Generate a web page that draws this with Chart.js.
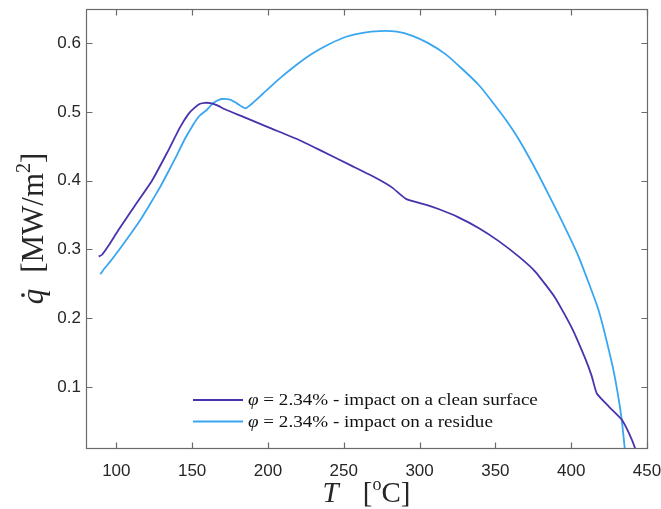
<!DOCTYPE html>
<html>
<head>
<meta charset="utf-8">
<script src="https://cdn.jsdelivr.net/npm/chart.js@4/dist/chart.umd.min.js"></script>
<style>
  html, body { margin: 0; padding: 0; background: #fff; }
  canvas { display: block; }
</style>
</head>
<body>
<canvas id="heatFluxChart" width="661" height="509"></canvas>
<script>
// tick labels
const xTicks = [100, 150, 200, 250, 300, 350, 400, 450];
const yTicks = [0.1, 0.2, 0.3, 0.4, 0.5, 0.6];

// series: impact on a clean surface
const cleanLabel = ' = 2.34% - impact on a clean surface';
const cleanT = [88.4, 90.6, 95, 101.5, 112, 123.5, 133.3, 142.1, 147.5, 151.5, 155.2, 158.5, 162, 166.2, 172.7, 185, 200, 220.9, 234, 255, 271.3, 282, 291, 305, 312.9, 325, 339.2, 352, 365.5, 376.4, 389.5, 400.5, 409.3, 413.5, 416.9, 425, 433.3, 438, 442.1, 443];
const cleanQ = [0.2898, 0.2923, 0.306, 0.3286, 0.363, 0.400, 0.440, 0.478, 0.497, 0.506, 0.512, 0.5135, 0.513, 0.510, 0.503, 0.492, 0.478, 0.459, 0.445, 0.422, 0.404, 0.390, 0.3737, 0.3645, 0.3585, 0.3475, 0.331, 0.3125, 0.2895, 0.2675, 0.2295, 0.1855, 0.141, 0.116, 0.0903, 0.071, 0.0525, 0.033, 0.011, 0.0];

// series: impact on a residue
const residueLabel = ' = 2.34% - impact on a residue';
const residueT = [89.5, 92, 96.1, 100, 105, 111.4, 117, 122, 128.9, 134, 139.9, 145, 150.8, 155, 159.6, 162.9, 166, 169.5, 175, 179.3, 185.4, 196.8, 207.8, 218.7, 229.6, 240.6, 251.6, 262.5, 273.5, 285, 295.3, 306, 317.3, 328, 339.2, 346.9, 357.8, 365.5, 378.6, 391.7, 404.8, 418, 426.8, 430.5, 433.3, 435.3, 435.8];
const residueQ = [0.264, 0.272, 0.2826, 0.294, 0.309, 0.3286, 0.347, 0.365, 0.391, 0.412, 0.437, 0.46, 0.482, 0.495, 0.503, 0.511, 0.516, 0.519, 0.518, 0.513, 0.5055, 0.527, 0.549, 0.5685, 0.5855, 0.599, 0.6096, 0.6154, 0.6179, 0.617, 0.611, 0.600, 0.584, 0.563, 0.539, 0.518, 0.486, 0.460, 0.408, 0.351, 0.290, 0.212, 0.135, 0.093, 0.0525, 0.011, 0.0];

const cleanColor = '#4A32AC';
const residueColor = '#38A6F0';
const axisColor = '#262626';
const serif = '"Liberation Serif", "DejaVu Serif", serif';

const toPoints = (xs, ys) => xs.map((x, i) => ({ x: x, y: ys[i] }));

// box, inward ticks, LaTeX-like titles and legend
const decorations = {
    id: 'decorations',
    afterDraw(chart) {
        const ctx = chart.ctx;
        const a = chart.chartArea;
        const xs = chart.scales.x, ys = chart.scales.y;
        const L = Math.round(a.left) + 0.5, R = Math.round(a.right) + 0.5;
        const T = Math.round(a.top) + 0.5, B = Math.round(a.bottom) + 0.5;
        ctx.save();
        ctx.strokeStyle = '#6a6a6a';
        ctx.lineWidth = 1.2;
        ctx.strokeRect(L, T, R - L, B - T);
        ctx.beginPath();
        xTicks.forEach(v => {
            const px = Math.round(xs.getPixelForValue(v)) + 0.5;
            ctx.moveTo(px, B); ctx.lineTo(px, B - 6);
            ctx.moveTo(px, T); ctx.lineTo(px, T + 6);
        });
        yTicks.forEach(v => {
            const py = Math.round(ys.getPixelForValue(v)) + 0.5;
            ctx.moveTo(L, py); ctx.lineTo(L + 6, py);
            ctx.moveTo(R, py); ctx.lineTo(R - 6, py);
        });
        ctx.stroke();

        ctx.fillStyle = axisColor;
        ctx.textBaseline = 'alphabetic';
        ctx.textAlign = 'left';

        // x title: T  [°C]
        const cx = (a.left + a.right) / 2;
        const xb = 502;
        ctx.font = 'italic 29px ' + serif;
        const wT = ctx.measureText('T').width;
        ctx.font = '29px ' + serif;
        const wB = ctx.measureText('[').width;
        const wC = ctx.measureText('C]').width;
        ctx.font = '18px ' + serif;
        const wO = ctx.measureText('o').width;
        const gapX = 24;
        let x0 = cx - (wT + gapX + wB + wO + wC) / 2;
        ctx.font = 'italic 29px ' + serif;
        ctx.fillText('T', x0, xb);
        x0 += wT + gapX;
        ctx.font = '29px ' + serif;
        ctx.fillText('[', x0, xb);
        x0 += wB;
        ctx.font = '18px ' + serif;
        ctx.fillText('o', x0, xb - 12);
        x0 += wO;
        ctx.font = '29px ' + serif;
        ctx.fillText('C]', x0, xb);

        // y title: q-dot  [MW/m^2]
        ctx.save();
        ctx.translate(43, (a.top + a.bottom) / 2);
        ctx.rotate(-Math.PI / 2);
        ctx.font = 'italic 31px ' + serif;
        const wq = ctx.measureText('q').width;
        ctx.font = '31px ' + serif;
        const wU = ctx.measureText('[MW/m').width;
        const wE = ctx.measureText(']').width;
        ctx.font = '20px ' + serif;
        const w2 = ctx.measureText('2').width;
        const gapY = 16;
        let u = -(wq + gapY + wU + w2 + wE) / 2;
        ctx.font = 'italic 31px ' + serif;
        ctx.fillText('q', u, 0);
        ctx.beginPath();
        ctx.arc(u + wq * 0.6, -20, 1.9, 0, Math.PI * 2);
        ctx.fill();
        u += wq + gapY;
        ctx.font = '31px ' + serif;
        ctx.fillText('[MW/m', u, 0);
        u += wU;
        ctx.font = '20px ' + serif;
        ctx.fillText('2', u, -13);
        u += w2;
        ctx.font = '31px ' + serif;
        ctx.fillText(']', u, 0);
        ctx.restore();

        // legend
        const items = [
            { color: cleanColor, text: cleanLabel },
            { color: residueColor, text: residueLabel }
        ];
        const lx = a.left + 107;
        items.forEach((it, i) => {
            const ly = 400 + i * 21.5;
            ctx.strokeStyle = it.color;
            ctx.lineWidth = 1.8;
            ctx.beginPath();
            ctx.moveTo(lx, ly); ctx.lineTo(lx + 50, ly);
            ctx.stroke();
            ctx.save();
            ctx.translate(lx + 55, ly + 5);
            ctx.scale(1.09, 1);
            ctx.fillStyle = '#111';
            ctx.font = 'italic 17.5px ' + serif;
            ctx.fillText('\u03C6', 0, 0);
            const wp = ctx.measureText('\u03C6').width;
            ctx.font = '17.5px ' + serif;
            ctx.fillText(it.text, wp, 0);
            ctx.restore();
        });
        ctx.restore();
    }
};

new Chart(document.getElementById('heatFluxChart'), {
    type: 'line',
    data: {
        datasets: [
            {
                label: 'clean surface',
                data: toPoints(cleanT, cleanQ),
                borderColor: cleanColor,
                borderWidth: 1.8,
                pointRadius: 0,
                tension: 0.15,
                fill: false
            },
            {
                label: 'residue',
                data: toPoints(residueT, residueQ),
                borderColor: residueColor,
                borderWidth: 1.8,
                pointRadius: 0,
                tension: 0.15,
                fill: false
            }
        ]
    },
    options: {
        responsive: false,
        animation: false,
        layout: { padding: { left: 0, right: 14, top: 9, bottom: 0 } },
        plugins: {
            legend: { display: false },
            tooltip: { enabled: false }
        },
        scales: {
            x: {
                type: 'linear',
                min: 80,
                max: 450,
                grid: { display: false, drawTicks: false },
                border: { display: false },
                afterBuildTicks: s => { s.ticks = xTicks.map(v => ({ value: v })); },
                afterFit: s => { s.height = 61; s.paddingLeft = 0; s.paddingRight = 0; },
                ticks: {
                    color: axisColor,
                    font: { family: '"Liberation Sans", Arial, sans-serif', size: 17 },
                    padding: 13,
                    maxRotation: 0
                }
            },
            y: {
                type: 'linear',
                min: 0.011,
                max: 0.65,
                grid: { display: false, drawTicks: false },
                border: { display: false },
                afterBuildTicks: s => { s.ticks = yTicks.map(v => ({ value: v })); },
                afterFit: s => { s.width = 86; s.paddingTop = 0; s.paddingBottom = 0; },
                ticks: {
                    color: axisColor,
                    font: { family: '"Liberation Sans", Arial, sans-serif', size: 17 },
                    padding: 5,
                    callback: v => v.toFixed(1)
                }
            }
        }
    },
    plugins: [decorations]
});
</script>
</body>
</html>
